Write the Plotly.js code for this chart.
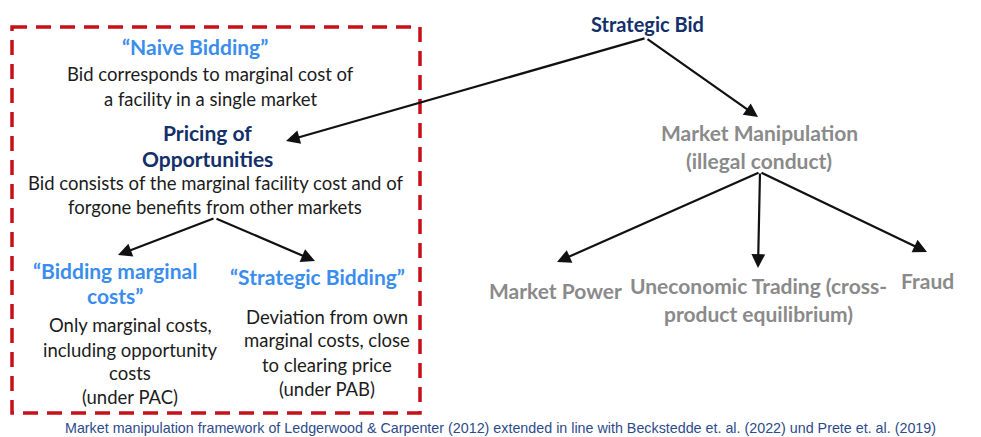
<!DOCTYPE html>
<html><head><meta charset="utf-8">
<script src="https://cdn.plot.ly/plotly-3.0.1.min.js"></script>
<style>html,body{margin:0;padding:0;background:#fff}#chart{width:981px;height:437px}</style>
</head><body><div id="chart"></div>
<script>
// Node labels (text content)
const nodeLabels = [
  "Strategic Bid",
  "“Naive Bidding”",
  "Pricing of",
  "Opportunities",
  "“Bidding marginal",
  "costs”",
  "“Strategic Bidding”",
  "Market Manipulation",
  "(illegal conduct)",
  "Market Power",
  "Uneconomic Trading (cross-",
  "product equilibrium)",
  "Fraud"
];
const nodeKinds = ["navy","blue","navy","navy","blue","blue","blue","gray","gray","gray","gray","gray","gray"];
const nodeX = [647, 195, 207, 207, 115, 115, 317, 759, 759, 555, 758, 758, 927];
const nodeY = [24, 46, 132, 158, 270, 295, 276, 132, 160, 290, 285, 313, 280];

const bodyLines = [
  "Bid corresponds to marginal cost of",
  "a facility in a single market",
  "Bid consists of the marginal facility cost and of",
  "forgone benefits from other markets",
  "Only marginal costs,",
  "including opportunity",
  "costs",
  "(under PAC)",
  "Deviation from own",
  "marginal costs, close",
  "to clearing price",
  "(under PAB)"
];
const bodyX = [210, 210, 215, 215, 130, 130, 130, 130, 327, 327, 327, 327];
const bodyY = [74, 99, 183, 207, 325, 350, 373, 397, 317, 340, 365, 389];

const caption = "Market manipulation framework of Ledgerwood &amp; Carpenter (2012) extended in line with Beckstedde et. al. (2022) und Prete et. al. (2019)";

// Arrows: tail -> head
const arrowFromX = [646, 646, 215, 215, 760, 760, 760];
const arrowFromY = [38, 38, 218, 218, 172, 172, 172];
const arrowToX   = [286, 758, 118, 315, 557, 758, 927];
const arrowToY   = [141, 117, 255, 261, 262, 268, 252];

const colors = {navy:"#13306a", blue:"#3a8ded", gray:"#8a8a8a"};
const ann = [];
nodeLabels.forEach((t,i)=>{
  ann.push({x:nodeX[i], y:nodeY[i], xref:"x", yref:"y", text:"<b>"+t+"</b>", showarrow:false,
    xanchor:"center", yanchor:"middle",
    font:{family:"Lato, 'Open Sans', sans-serif", size: i===0?20:21, color:colors[nodeKinds[i]]}});
});
bodyLines.forEach((t,i)=>{
  ann.push({x:bodyX[i], y:bodyY[i], xref:"x", yref:"y", text:t, showarrow:false,
    xanchor:"center", yanchor:"middle",
    font:{family:"Lato, 'Open Sans', sans-serif", size:18.5, color:"#1c1c1c"}});
});
ann.push({x:500, y:428, xref:"x", yref:"y", text:caption, showarrow:false, xanchor:"center", yanchor:"middle",
  font:{family:"'Liberation Sans', Arial, sans-serif", size:14.3, color:"#2d4b8c"}});
arrowFromX.forEach((_,i)=>{
  ann.push({x:arrowToX[i], y:arrowToY[i], ax:arrowFromX[i], ay:arrowFromY[i], xref:"x", yref:"y",
    axref:"x", ayref:"y", text:"", showarrow:true, arrowhead:2, arrowsize:1.25, arrowwidth:2.2,
    arrowcolor:"#111", standoff:0, startstandoff:0});
});

const layout = {
  width:981, height:437, margin:{l:0,r:0,t:0,b:0},
  paper_bgcolor:"#fff", plot_bgcolor:"#fff", showlegend:false,
  xaxis:{range:[0,981], visible:false, fixedrange:true},
  yaxis:{range:[437,0], visible:false, fixedrange:true},
  shapes:[{type:"rect", xref:"x", yref:"y", x0:12, y0:27, x1:420, y1:413,
    line:{color:"#c8101a", width:3.5, dash:"15px,9px"}}],
  annotations: ann
};
Plotly.newPlot("chart", [{x:[0], y:[0], mode:"markers", marker:{opacity:0}, hoverinfo:"skip"}], layout, {staticPlot:true, displayModeBar:false});
</script></body></html>
